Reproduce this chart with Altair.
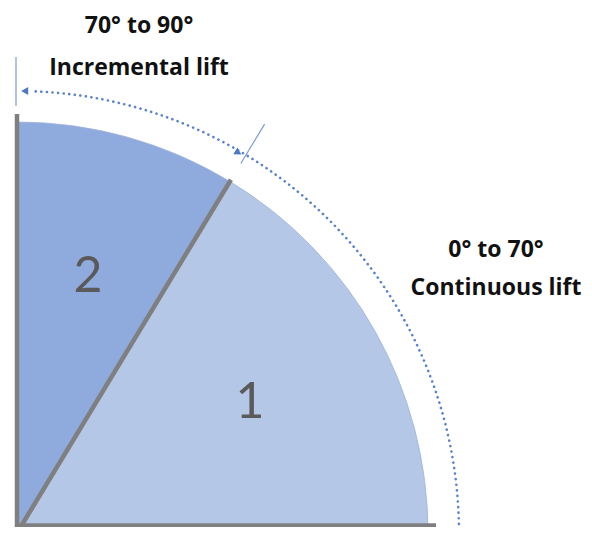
import math
import altair as alt
import pandas as pd

# ---- diagram values (units = pixels, origin at the corner of the quarter circle) ----
sector_names = ["1", "2"]
sector_from_deg = [0.0, 58.8]      # angle measured from the horizontal
sector_to_deg = [58.8, 90.0]
sector_colors = ["#B4C7E7", "#8FAADC"]
sector_radius = 411
axis_length = 419
divider_length = 413
dotted_radius = 442
tick_inner = [432, 427]
tick_outer = [478, 476]
tick_angles = [58.8, 90.0]
baseline_level = 7.5   # bottom grey line, lifted to stay inside the page

caption_texts = ["70° to 90°", "Incremental lift", "0° to 70°", "Continuous lift"]
caption_x = [122, 122, 479, 479]
caption_y = [500, 458, 276, 238]
number_texts = ["1", "2"]
number_x = [233, 71]
number_y = [115, 241]

W, H = 576, 519
xs = alt.Scale(domain=[-9, 567], nice=False, zero=False)
ys = alt.Scale(domain=[6, 525], nice=False, zero=False)


def pol(r, deg):
    a = math.radians(deg)
    return r * math.cos(a), r * math.sin(a)


sec_df = pd.DataFrame({
    "name": sector_names,
    "cx": [0, 0], "cy": [0, 0],
    "t1": [math.radians(90 - e) for e in sector_to_deg],
    "t2": [math.radians(90 - s) for s in sector_from_deg],
    "r": [sector_radius] * 2,
    "color": sector_colors,
})
sectors = alt.Chart(sec_df).mark_arc(stroke="#9DB3DC", strokeWidth=0.8).encode(
    x=alt.X("cx:Q", scale=xs, axis=None),
    y=alt.Y("cy:Q", scale=ys, axis=None),
    theta=alt.Theta("t1:Q", scale=None, stack=False),
    theta2=alt.Theta2("t2:Q"),
    radius=alt.Radius("r:Q", scale=None),
    color=alt.Color("color:N", scale=None),
)

gx1, gy1 = pol(axis_length, 90)
gx2, gy2 = pol(axis_length, 0)
dx, dy = pol(divider_length, sector_to_deg[0])
grey_df = pd.DataFrame({
    "x": [0, -2, 0], "y": [0, baseline_level, 0],
    "x2": [gx1, gx2, dx], "y2": [gy1, baseline_level, dy],
})
grey = alt.Chart(grey_df).mark_rule(color="#7F7F7F", strokeWidth=4.5).encode(
    x=alt.X("x:Q", scale=xs, axis=None), y=alt.Y("y:Q", scale=ys, axis=None),
    x2="x2:Q", y2="y2:Q",
)

tk = []
for a, ri, ro in zip(tick_angles, tick_inner, tick_outer):
    x1, y1 = pol(ri, a)
    x2, y2 = pol(ro, a)
    off = 1 if a == 90 else 0
    tk.append({"x": x1 - off, "y": y1, "x2": x2 - off, "y2": y2})
ticks = alt.Chart(pd.DataFrame(tk)).mark_rule(color="#7F9BD0", strokeWidth=1.2).encode(
    x=alt.X("x:Q", scale=xs, axis=None), y=alt.Y("y:Q", scale=ys, axis=None),
    x2="x2:Q", y2="y2:Q",
)

pts = []
for i, d in enumerate(range(-1, 89)):
    x, y = pol(dotted_radius, d)
    pts.append({"x": x, "y": y, "o": i})
dotted = alt.Chart(pd.DataFrame(pts)).mark_line(
    color="#5B83CC", strokeWidth=2.6, strokeDash=[0.1, 5.5], strokeCap="round"
).encode(
    x=alt.X("x:Q", scale=xs, axis=None), y=alt.Y("y:Q", scale=ys, axis=None),
    order="o:Q",
)

ax1, ay1 = pol(dotted_radius, 89.0)
ax2, ay2 = pol(dotted_radius - 2, 59.8)
arr_df = pd.DataFrame({"x": [ax1, ax2], "y": [ay1, ay2],
                       "shape": ["triangle-left", "triangle-right"],
                       "ang": [0, 31.2]})
arrows = alt.Chart(arr_df).mark_point(filled=True, opacity=1, color="#4F78C4", size=65).encode(
    x=alt.X("x:Q", scale=xs, axis=None), y=alt.Y("y:Q", scale=ys, axis=None),
    shape=alt.Shape("shape:N", scale=None),
    angle=alt.Angle("ang:Q", scale=None),
)

cap_df = pd.DataFrame({"t": caption_texts, "x": caption_x, "y": caption_y})
captions = alt.Chart(cap_df).mark_text(
    font="Open Sans", fontWeight="bold", fontSize=23, color="#111111", baseline="alphabetic", align="center"
).encode(
    x=alt.X("x:Q", scale=xs, axis=None), y=alt.Y("y:Q", scale=ys, axis=None), text="t:N",
)

num_df = pd.DataFrame({"t": number_texts, "x": number_x, "y": number_y})
numbers = alt.Chart(num_df).mark_text(
    font="Lato", fontSize=50, color="#5A5A5A", baseline="alphabetic", align="center"
).encode(
    x=alt.X("x:Q", scale=xs, axis=None), y=alt.Y("y:Q", scale=ys, axis=None), text="t:N",
)

chart = alt.layer(sectors, dotted, ticks, grey, arrows, captions, numbers).properties(
    width=W, height=H, padding=0, autosize=alt.AutoSizeParams(type="none"),
    background="#FFFFFF",
).configure_view(stroke=None)

chart.save("out.html", embed_options={"renderer": "svg", "actions": False})
